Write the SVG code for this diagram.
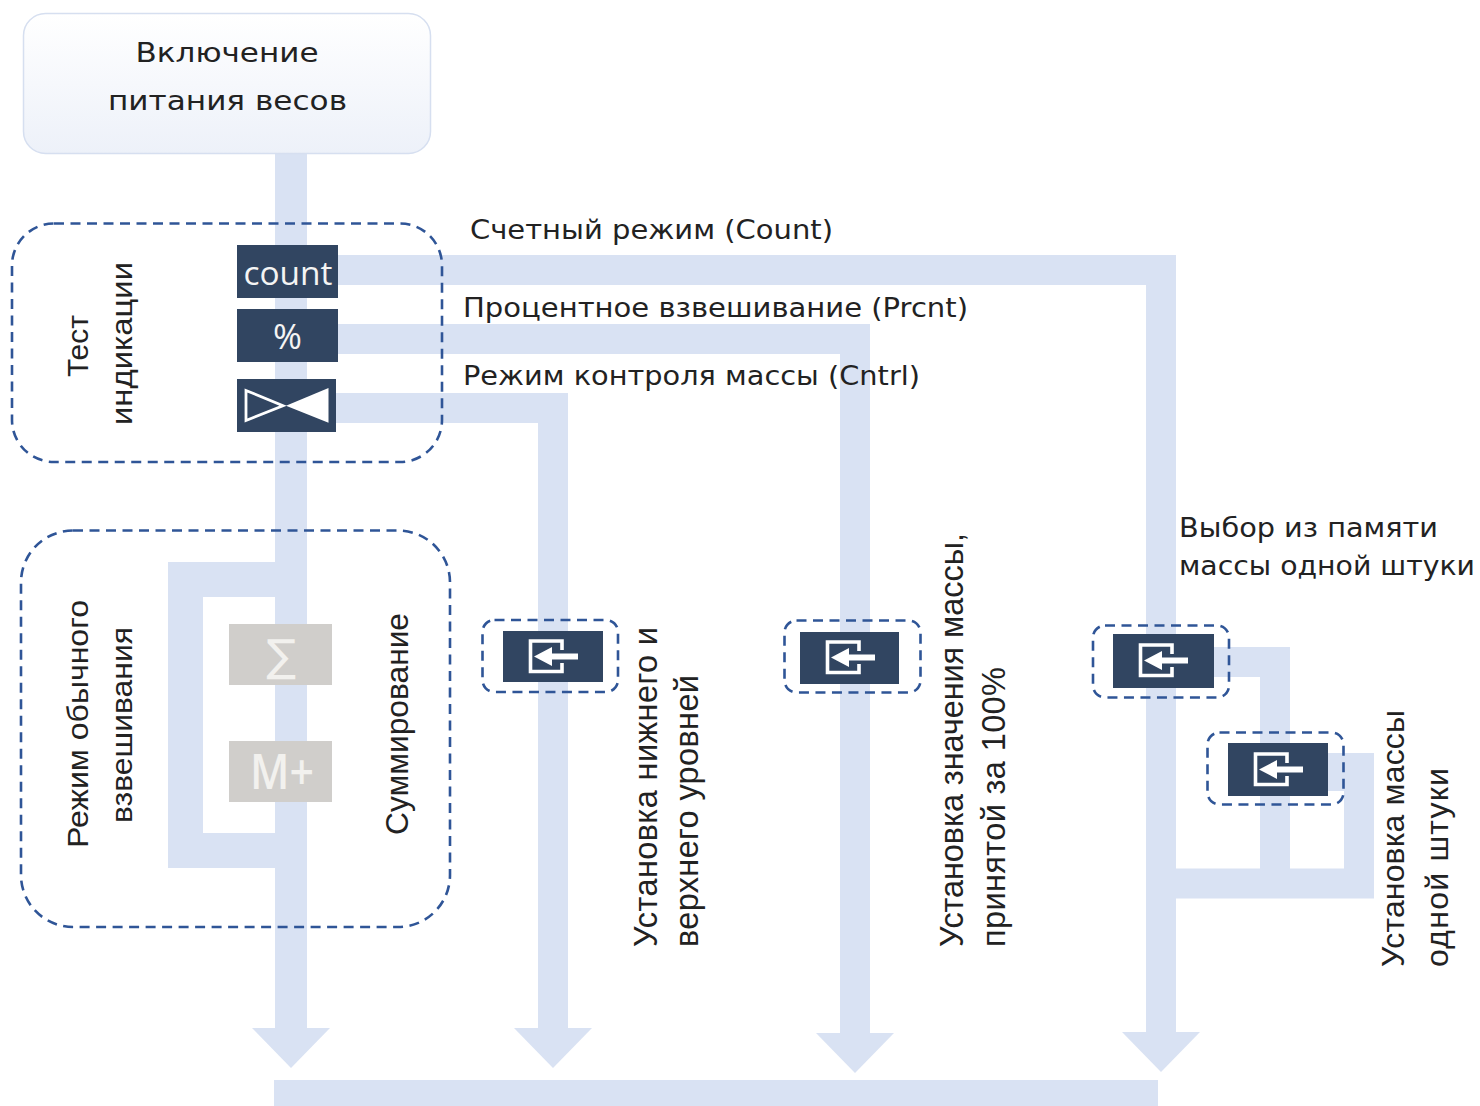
<svg xmlns="http://www.w3.org/2000/svg" width="1480" height="1106" viewBox="0 0 1480 1106">
<style>
  .flow { fill: none; stroke: #d9e2f3; stroke-linejoin: miter; stroke-linecap: butt; }
  .dash { fill: none; stroke: #2f5597; stroke-width: 2.6; stroke-dasharray: 10 6.5; }
  .dark { fill: #314561; }
  .grey { fill: #d0cecb; }
  .lbl { font-family: "DejaVu Sans", Verdana, sans-serif; font-size: 26px; fill: #222; }
  .rot { font-family: "Liberation Sans", Arial, sans-serif; fill: #222; }
</style>
<defs>
  <linearGradient id="nodeGrad" x1="0" y1="0" x2="0" y2="1">
    <stop offset="0" stop-color="#ffffff"/>
    <stop offset="1" stop-color="#edf1f9"/>
  </linearGradient>
  <marker id="head" markerUnits="userSpaceOnUse" markerWidth="80" markerHeight="80" refX="0" refY="0" viewBox="-1 -40 42 80" orient="auto" overflow="visible">
    <path d="M0,-39 L40,0 L0,39 Z" fill="#d9e2f3"/>
  </marker>
  <g id="enter">
    <path d="M59 19 V10 H27.5 V40.5 H59 V32" fill="none" stroke="#ffffff" stroke-width="3.6"/>
    <polygon points="31,25.5 49,16 49,22.5 75,22.5 75,28.5 49,28.5 49,35" fill="#ffffff"/>
  </g>
</defs>

<g id="connectors">
  <path class="flow" stroke-width="32" d="M291 140 V1028" marker-end="url(#head)"/>
  <path class="flow" stroke-width="30" d="M320 270 H1161 V1032" marker-end="url(#head)"/>
  <path class="flow" stroke-width="30" d="M320 339 H855 V1033" marker-end="url(#head)"/>
  <path class="flow" stroke-width="30" d="M320 408 H553 V1028" marker-end="url(#head)"/>
  <path class="flow" stroke-width="35" d="M291 579.5 H185.5 V850.5 H291"/>
  <path class="flow" stroke-width="30" d="M1200 662 H1275 V883.5"/>
  <path class="flow" stroke-width="30" d="M1161 883.5 H1359 V753"/>
  <path class="flow" stroke-width="38" d="M1315 772 H1374"/>
</g>

<g id="node-power">
  <rect x="23.5" y="13.5" width="407" height="140" rx="22" fill="url(#nodeGrad)" stroke="#d6dff0" stroke-width="1.5"/>
  <text class="lbl" x="227" y="62" font-size="27.5" text-anchor="middle" textLength="183" lengthAdjust="spacingAndGlyphs">Включение</text>
  <text class="lbl" x="227.5" y="110" font-size="27.5" text-anchor="middle" textLength="239" lengthAdjust="spacingAndGlyphs">питания весов</text>
</g>

<g id="node-test">
  <rect class="dash" x="12" y="223.5" width="430" height="238.5" rx="42"/>
  <text class="rot" font-size="30" text-anchor="middle" transform="translate(88,346) rotate(-90)" textLength="62" lengthAdjust="spacingAndGlyphs">Тест</text>
  <text class="rot" font-size="30" text-anchor="middle" transform="translate(132,343.5) rotate(-90)" textLength="163" lengthAdjust="spacingAndGlyphs">индикации</text>
</g>

<g id="node-count">
  <rect class="dark" x="237" y="245" width="101" height="53"/>
  <text x="288" y="285" font-family="'Open Sans', 'DejaVu Sans', sans-serif" font-size="33" fill="#f4f4f4" text-anchor="middle" textLength="89" lengthAdjust="spacingAndGlyphs">count</text>
</g>

<g id="node-percent">
  <rect class="dark" x="237" y="309" width="101" height="53"/>
  <text x="287.5" y="349" font-family="'Open Sans', 'DejaVu Sans', sans-serif" font-size="35" fill="#f4f4f4" text-anchor="middle">%</text>
</g>

<g id="node-cntrl">
  <rect class="dark" x="237" y="379" width="99" height="53"/>
  <polygon points="246,390.5 246,420.5 283,405.7" fill="none" stroke="#ffffff" stroke-width="2.8"/>
  <polygon points="328.5,388 328.5,422.7 286,405.7" fill="#ffffff"/>
</g>

<g id="node-normal">
  <rect class="dash" x="21" y="530.5" width="429" height="396.5" rx="52"/>
  <text class="rot" font-size="30" text-anchor="middle" transform="translate(88,724) rotate(-90)" textLength="248" lengthAdjust="spacingAndGlyphs">Режим обычного</text>
  <text class="rot" font-size="30" text-anchor="middle" transform="translate(132,725) rotate(-90)" textLength="196" lengthAdjust="spacingAndGlyphs">взвешивания</text>
  <text class="rot" font-size="31" text-anchor="middle" transform="translate(408,724) rotate(-90)" textLength="222" lengthAdjust="spacingAndGlyphs">Суммирование</text>
</g>

<g id="node-sigma">
  <rect class="grey" x="229" y="624" width="103" height="61"/>
  <text x="281" y="671" font-family="'DejaVu Sans', sans-serif" font-size="44" fill="#f2f1ee" text-anchor="middle">∑</text>
</g>

<g id="node-mplus">
  <rect class="grey" x="229" y="741" width="103" height="61"/>
  <text x="282" y="789" font-family="'Open Sans', 'DejaVu Sans', sans-serif" font-size="48" font-weight="600" fill="#f2f1ee" text-anchor="middle" textLength="64" lengthAdjust="spacingAndGlyphs">M+</text>
</g>

<g id="label-count">
  <text class="lbl" x="470" y="239" textLength="363" lengthAdjust="spacingAndGlyphs">Счетный режим (Count)</text>
</g>
<g id="label-prcnt">
  <text class="lbl" x="463" y="317" textLength="505" lengthAdjust="spacingAndGlyphs">Процентное взвешивание (Prcnt)</text>
</g>
<g id="label-cntrl">
  <text class="lbl" x="463" y="385" textLength="457" lengthAdjust="spacingAndGlyphs">Режим контроля массы (Cntrl)</text>
</g>

<g id="node-enter-cntrl">
  <rect class="dash" x="482.5" y="620" width="135.5" height="72" rx="12"/>
  <rect class="dark" x="503" y="631" width="100" height="51"/>
  <use href="#enter" x="503" y="631"/>
  <text class="rot" font-size="32.5" transform="translate(657,947) rotate(-90)" textLength="320">Установка нижнего и</text>
  <text class="rot" font-size="32.5" transform="translate(698,947) rotate(-90)" textLength="272">верхнего уровней</text>
</g>

<g id="node-enter-prcnt">
  <rect class="dash" x="784.5" y="620.5" width="136" height="72" rx="12"/>
  <rect class="dark" x="800" y="632" width="99" height="52"/>
  <use href="#enter" x="800" y="632"/>
  <text class="rot" font-size="32.5" transform="translate(963,947) rotate(-90)" textLength="414">Установка значения массы,</text>
  <text class="rot" font-size="32.5" transform="translate(1005,947) rotate(-90)" textLength="280">принятой за 100%</text>
</g>

<g id="node-enter-memory">
  <rect class="dash" x="1093" y="625.5" width="136" height="72" rx="12"/>
  <rect class="dark" x="1113" y="634" width="101" height="54"/>
  <use href="#enter" x="1113" y="635"/>
  <text class="lbl" x="1179" y="537" textLength="259" lengthAdjust="spacingAndGlyphs">Выбор из памяти</text>
  <text class="lbl" x="1179" y="575" textLength="296" lengthAdjust="spacingAndGlyphs">массы одной штуки</text>
</g>

<g id="node-enter-unit">
  <rect class="dash" x="1207.5" y="732.5" width="136" height="72" rx="12"/>
  <rect class="dark" x="1228" y="743" width="100" height="53"/>
  <use href="#enter" x="1228" y="744"/>
  <text class="rot" font-size="32" transform="translate(1404,967) rotate(-90)" textLength="257">Установка массы</text>
  <text class="rot" font-size="32" transform="translate(1448,967) rotate(-90)" textLength="199">одной штуки</text>
</g>

<g id="node-end">
  <rect x="274" y="1080" width="884" height="26" fill="#d9e2f3"/>
</g>
</svg>
